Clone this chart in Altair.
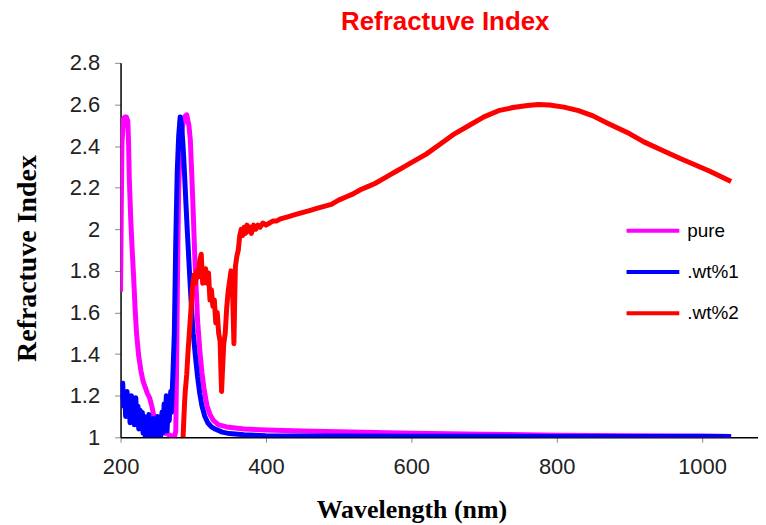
import altair as alt
import pandas as pd

# ---- data ----
pure_nm = [200, 201, 202, 204, 206, 208, 210, 211, 212, 214, 216, 218, 220, 222, 225, 228, 231, 234,
           237, 240, 243, 246, 249, 252, 256, 262, 268, 274, 276, 277, 278, 279, 280, 282, 285, 288,
           291, 294, 296, 298, 300, 302, 304, 306, 309, 312, 315, 319, 323, 328, 335, 346, 370, 400,
           450, 500, 600, 700, 800, 900, 1000, 1040]
pure_ri = [1.70, 2.10, 2.42, 2.53, 2.54, 2.54, 2.52, 2.42, 2.25, 2.05, 1.90, 1.77, 1.62, 1.50, 1.39,
           1.32, 1.27, 1.24, 1.21, 1.19, 1.15, 1.10, 1.06, 1.04, 1.03, 1.02, 1.01, 1.00, 1.03, 1.30,
           1.65, 1.95, 2.19, 2.38, 2.49, 2.54, 2.55, 2.50, 2.43, 2.26, 2.08, 1.88, 1.72, 1.56, 1.42,
           1.31, 1.23, 1.15, 1.11, 1.08, 1.06, 1.05, 1.04, 1.035, 1.03, 1.027, 1.02, 1.015, 1.01,
           1.007, 1.005, 1.004]

wt1_nm = [200, 201, 203, 204, 206, 207, 209, 210, 212, 213, 215, 216, 218, 219, 221, 222, 224, 225,
          227, 228, 230, 231, 233, 234, 236, 237, 239, 240, 242, 243, 245, 246, 248, 249, 251, 252,
          254, 255, 257, 258, 260, 261, 263, 264, 266, 267, 269, 270, 272, 274, 276, 278, 280, 282,
          284, 286, 288, 290, 292, 294, 296, 298, 300, 303, 306, 309, 312, 316, 320, 325, 330, 340,
          350, 370, 400, 500, 600, 700, 800, 900, 1000, 1040]
wt1_ri = [1.18, 1.24, 1.26, 1.15, 1.20, 1.10, 1.22, 1.12, 1.18, 1.07, 1.20, 1.10, 1.16, 1.06, 1.19,
          1.09, 1.15, 1.04, 1.13, 1.06, 1.12, 1.02, 1.10, 1.00, 1.08, 1.01, 1.11, 1.00, 1.06, 1.00,
          1.09, 1.02, 1.05, 1.00, 1.10, 1.00, 1.04, 1.00, 1.12, 1.02, 1.16, 1.05, 1.20, 1.03, 1.18,
          1.08, 1.22, 1.12, 1.30, 1.50, 1.95, 2.28, 2.45, 2.54, 2.50, 2.40, 2.27, 2.12, 1.98, 1.85,
          1.72, 1.60, 1.50, 1.39, 1.29, 1.21, 1.15, 1.10, 1.07, 1.05, 1.04, 1.025, 1.018, 1.012,
          1.008, 1.006, 1.005, 1.005, 1.004, 1.004, 1.005, 1.004]

wt2_nm = [286, 287, 288, 289, 291, 293, 295, 297, 299, 301, 303, 305, 307, 309, 311, 313, 315, 317,
          319, 321, 323, 325, 327, 329, 331, 333, 335, 337, 338, 339, 340, 342, 344, 346, 348, 350,
          352, 354, 355, 356, 357, 358, 360, 362, 364, 366, 368, 370, 372, 374, 376, 378, 380, 383,
          386, 389, 392, 396, 400, 405, 410, 415, 420, 430, 440, 450, 460, 470, 480, 490, 500, 510,
          520, 530, 540, 550, 560, 570, 580, 590, 600, 620, 640, 660, 680, 700, 720, 740, 760, 775,
          790, 810, 830, 850, 870, 900, 920, 945, 970, 990, 1010, 1025, 1040]
wt2_ri = [1.00, 1.08, 1.16, 1.22, 1.30, 1.42, 1.52, 1.62, 1.72, 1.78, 1.74, 1.80, 1.77, 1.85, 1.88,
          1.74, 1.78, 1.81, 1.74, 1.79, 1.66, 1.71, 1.63, 1.66, 1.55, 1.60, 1.50, 1.46, 1.33, 1.22,
          1.30, 1.45, 1.50, 1.62, 1.70, 1.75, 1.80, 1.72, 1.58, 1.45, 1.65, 1.82, 1.87, 1.90, 1.97,
          2.00, 1.97, 2.01, 1.98, 2.02, 1.99, 2.01, 1.98, 2.02, 2.00, 2.02, 2.01, 2.03, 2.02, 2.03,
          2.04, 2.04, 2.05, 2.06, 2.07, 2.08, 2.09, 2.10, 2.11, 2.12, 2.14, 2.155, 2.17, 2.19, 2.205,
          2.22, 2.24, 2.26, 2.28, 2.30, 2.32, 2.36, 2.41, 2.46, 2.50, 2.54, 2.57, 2.585, 2.595, 2.60,
          2.597, 2.587, 2.57, 2.545, 2.51, 2.46, 2.42, 2.38, 2.34, 2.31, 2.28, 2.255, 2.23]

series_names = ["pure", ".wt%1", ".wt%2"]
series_colors = ["#FF00FF", "#0000FF", "#FF0000"]
x_ticks = [200, 400, 600, 800, 1000]
y_ticks = [1.0, 1.2, 1.4, 1.6, 1.8, 2.0, 2.2, 2.4, 2.6, 2.8]

frames = [
    pd.DataFrame({"nm": pure_nm, "ri": pure_ri, "series": series_names[0]}),
    pd.DataFrame({"nm": wt1_nm, "ri": wt1_ri, "series": series_names[1]}),
    pd.DataFrame({"nm": wt2_nm, "ri": wt2_ri, "series": series_names[2]}),
]

x_enc = alt.X("nm:Q",
              scale=alt.Scale(domain=[200, 1077], nice=False, zero=False),
              axis=alt.Axis(values=x_ticks, format="d", labelFlush=False, labelOverlap=False,
                            title="Wavelength (nm)", grid=False,
                            labelFont="Liberation Sans", labelFontSize=22, labelColor="#222",
                            labelPadding=14, tickSize=5, tickColor="#888",
                            domainColor="#000", domainWidth=1.5,
                            titleFont="Liberation Serif", titleFontWeight="bold", titleFontSize=26,
                            titleColor="#000", titleX=292, titleY=81, titleAlign="center",
                            titleBaseline="alphabetic"))
y_enc = alt.Y("ri:Q",
              scale=alt.Scale(domain=[1, 2.8], nice=False, zero=False),
              axis=alt.Axis(values=y_ticks, format="~g", labelFlush=False, labelOverlap=False,
                            title="Refractuve Index", grid=False,
                            labelFont="Liberation Sans", labelFontSize=22, labelColor="#222",
                            labelPadding=15, tickSize=6, tickColor="#888",
                            domainColor="#000", domainWidth=1.5,
                            titleFont="Liberation Serif", titleFontWeight="bold", titleFontSize=28,
                            titleColor="#000", titleAngle=270, titleX=-93, titleY=196,
                            titleAlign="center", titleBaseline="middle"))
color_enc = alt.Color("series:N",
                      scale=alt.Scale(domain=series_names, range=series_colors),
                      legend=alt.Legend(title=None, orient="none", legendX=506, legendY=140,
                                        symbolType="stroke", symbolSize=2809, symbolStrokeWidth=4,
                                        labelFont="Liberation Sans", labelFontSize=19,
                                        labelColor="#000", labelOffset=6, rowPadding=2.5,
                                        padding=0))

layers = [
    alt.Chart(df).mark_line(strokeWidth=5, strokeJoin="round", clip=True).encode(
        x=x_enc, y=y_enc, color=color_enc, order=alt.Order("nm:Q"))
    for df in frames
]

chart = alt.layer(*layers).properties(
    width=640, height=376,
    autosize=alt.AutoSizeParams(type="none"),
    padding={"left": 113, "top": 54, "right": 0, "bottom": 87},
    title=alt.TitleParams("Refractuve Index", color="#FF0000", font="Liberation Sans",
                          fontWeight="bold", fontSize=26, anchor="middle", frame="group",
                          offset=17, dx=6),
).configure(background="white").configure_view(stroke=None)

chart.save("out.html", embed_options={"renderer": "svg", "actions": False})
